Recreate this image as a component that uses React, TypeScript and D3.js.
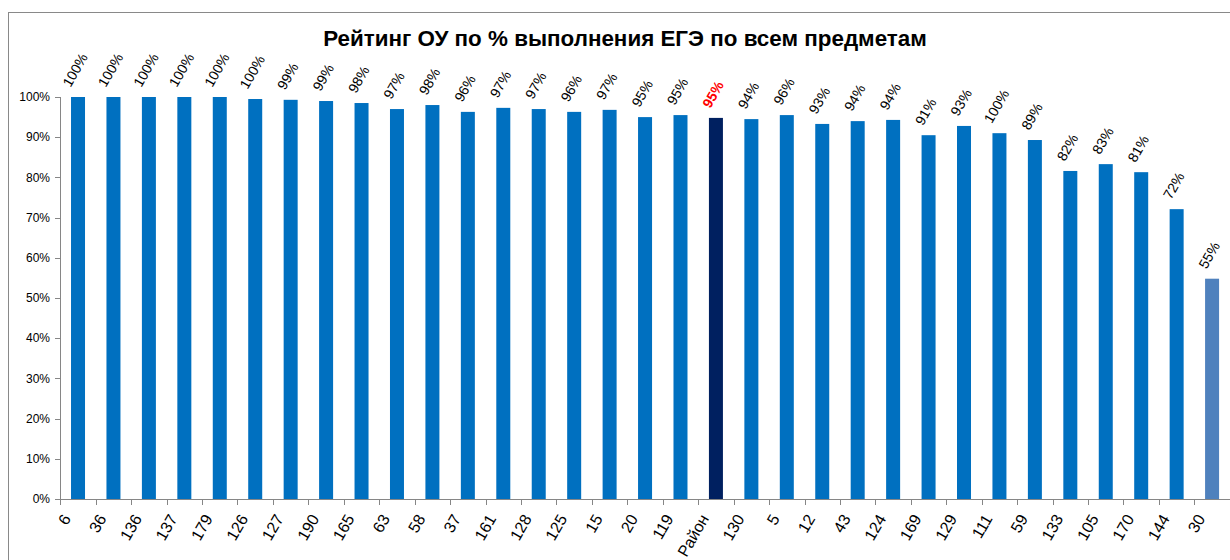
import { useRef, useEffect } from "react";
import * as d3 from "d3";

const categories = [
  "6", "36", "136", "137", "179", "126", "127", "190", "165", "63", "58",
  "37", "161", "128", "125", "15", "20", "119", "Район", "130", "5", "12",
  "43", "124", "169", "129", "111", "59", "133", "105", "170", "144", "30",
];
const values = [
  100, 100, 100, 100, 100, 99.5, 99.3, 99, 98.5, 97, 98, 96.3, 97.3, 97,
  96.3, 96.8, 95, 95.5, 94.8, 94.5, 95.5, 93.3, 94, 94.3, 90.5, 92.8, 91,
  89.3, 81.6, 83.3, 81.3, 72.1, 54.8,
];
const labels = [
  100, 100, 100, 100, 100, 100, 99, 99, 98, 97, 98, 96, 97, 97, 96, 97, 95,
  95, 95, 94, 96, 93, 94, 94, 91, 93, 100, 89, 82, 83, 81, 72, 55,
];
const yTicks = [0, 10, 20, 30, 40, 50, 60, 70, 80, 90, 100];

const FONT = "'Liberation Sans', Arial, sans-serif";

export default function App() {
  const ref = useRef<SVGSVGElement>(null);

  useEffect(() => {
    const svg = d3.select(ref.current);
    svg.selectAll("*").remove();

    const x = d3
      .scaleBand<string>()
      .domain(categories)
      .range([60.3, 1229.8])
      .paddingInner(0.605)
      .paddingOuter(0.3025);
    const y = d3.scaleLinear().domain([0, 100]).range([499, 97]);
    const step = x.step();
    const x0 = x.range()[0];

    // рамка диаграммы
    svg
      .append("rect")
      .attr("x", 8.5)
      .attr("y", 12.5)
      .attr("width", 1240)
      .attr("height", 560)
      .attr("fill", "#fff")
      .attr("stroke", "#898989")
      .attr("stroke-width", 1);

    // заголовок
    svg
      .append("text")
      .attr("x", 625)
      .attr("y", 46)
      .attr("text-anchor", "middle")
      .style("font-family", FONT)
      .style("font-weight", "bold")
      .style("font-size", "22.4px")
      .text("Рейтинг ОУ по % выполнения ЕГЭ по всем предметам");

    // столбцы
    svg
      .append("g")
      .selectAll("rect")
      .data(categories)
      .enter()
      .append("rect")
      .attr("x", (d) => x(d)!)
      .attr("width", x.bandwidth())
      .attr("y", (d, i) => y(values[i]))
      .attr("height", (d, i) => y(0) - y(values[i]))
      .attr("fill", (d, i) =>
        d === "Район" ? "#002060" : i === categories.length - 1 ? "#4F81BD" : "#0070C0"
      );

    // ось Y
    const axisColor = "#868686";
    svg
      .append("line")
      .attr("x1", 60.5)
      .attr("x2", 60.5)
      .attr("y1", y(100))
      .attr("y2", y(0))
      .attr("stroke", axisColor);
    const yg = svg.append("g");
    yTicks.forEach((t) => {
      yg.append("line")
        .attr("x1", 55)
        .attr("x2", 60.5)
        .attr("y1", Math.round(y(t)) + 0.5)
        .attr("y2", Math.round(y(t)) + 0.5)
        .attr("stroke", axisColor);
      yg.append("text")
        .attr("x", 50)
        .attr("y", y(t))
        .attr("dy", "0.35em")
        .attr("text-anchor", "end")
        .style("font-family", FONT)
        .style("font-size", "12px")
        .text(`${t}%`);
    });

    // ось X
    svg
      .append("line")
      .attr("x1", 60)
      .attr("x2", 1230)
      .attr("y1", 499.5)
      .attr("y2", 499.5)
      .attr("stroke", axisColor);
    d3.range(categories.length + 1).forEach((i) => {
      const tx = Math.round(x0 + i * step) + 0.5;
      svg
        .append("line")
        .attr("x1", tx)
        .attr("x2", tx)
        .attr("y1", 499.5)
        .attr("y2", 505)
        .attr("stroke", axisColor);
    });
    svg
      .append("g")
      .selectAll("text")
      .data(categories)
      .enter()
      .append("text")
      .attr("text-anchor", "end")
      .attr(
        "transform",
        (d) => `translate(${x(d)! + x.bandwidth() / 2 - 6.5},518.5) rotate(-60)`
      )
      .style("font-family", FONT)
      .style("font-size", "16px")
      .text((d) => d);

    // подписи значений
    const dl = svg
      .append("g")
      .selectAll("text")
      .data(categories)
      .enter()
      .append("text")
      .style("font-family", FONT)
      .style("font-size", "14px")
      .style("font-weight", (d) => (d === "Район" ? "bold" : "normal"))
      .attr("fill", (d) => (d === "Район" ? "#FF0000" : "#000"))
      .text((d, i) => `${labels[i]}%`);
    dl.attr("transform", function (d, i) {
      const L = (this as SVGTextElement).getComputedTextLength();
      const cx = x(d)! + x.bandwidth() / 2;
      const sx = cx - 3 - (L * 0.5 - 8.7) / 2;
      const sy = y(values[i]) - 9;
      return `translate(${sx},${sy}) rotate(-60)`;
    });
  }, []);

  return (
    <svg
      ref={ref}
      width={1230}
      height={560}
      style={{ position: "absolute", left: 0, top: 0 }}
    ></svg>
  );
}
